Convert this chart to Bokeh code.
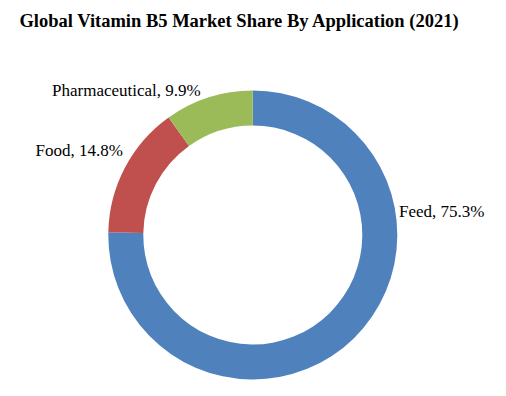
import math
from bokeh.plotting import figure
from bokeh.models import Range1d, ColumnDataSource
from bokeh.core.properties import value
from bokeh.embed import file_html
from bokeh.resources import INLINE

# ---- data ----
categories = ["Feed", "Food", "Pharmaceutical"]
shares = [75.3, 14.8, 9.9]
colors = ["#4F81BD", "#C0504D", "#9BBB59"]
title_text = "Global Vitamin  B5 Market Share By Application (2021)"

# ---- layout (screen-pixel coordinates of the page) ----
W, H = 490, 380
cx, cy = 252.3, 234.5
r_outer, r_inner = 144.5, 109.5
label_pos = {"Feed": (398.5, 211), "Food": (35, 150), "Pharmaceutical": (51.5, 89.5)}

def Y(sy):
    return 396 - sy

total = sum(shares)
starts, ends = [], []
acc = 0.0
for s in shares:
    starts.append(math.pi / 2 - acc / total * 2 * math.pi)
    acc += s
    ends.append(math.pi / 2 - acc / total * 2 * math.pi)

src = ColumnDataSource(dict(cat=categories, share=shares, color=colors,
                            start=starts, end=ends))

p = figure(width=W, height=H, output_backend="svg", toolbar_location=None,
           x_range=Range1d(0, W), y_range=Range1d(396 - H, 396),
           min_border=0)
p.axis.visible = False
p.grid.visible = False
p.outline_line_color = None
p.background_fill_color = "white"

p.annular_wedge(x=cx, y=Y(cy), inner_radius=r_inner, outer_radius=r_outer,
                inner_radius_units="screen", outer_radius_units="screen",
                start_angle="start", end_angle="end", direction="clock",
                fill_color="color", line_color=None, source=src)

lx = [label_pos[c][0] for c in categories]
ly = [Y(label_pos[c][1]) for c in categories]
ltxt = [f"{c}, {s}%" for c, s in zip(categories, shares)]
p.text(x=lx, y=ly, text=ltxt, text_font=value("Liberation Serif"),
       text_font_size="17px", text_align="left", text_baseline="middle",
       text_color="black")

p.text(x=[241.5], y=[Y(20)], text=[title_text], text_font=value("Liberation Serif"),
       text_font_style="bold", text_font_size="18.5px", text_align="center",
       text_baseline="middle", text_color="black")

open("out.html", "w").write(file_html(p, INLINE))
